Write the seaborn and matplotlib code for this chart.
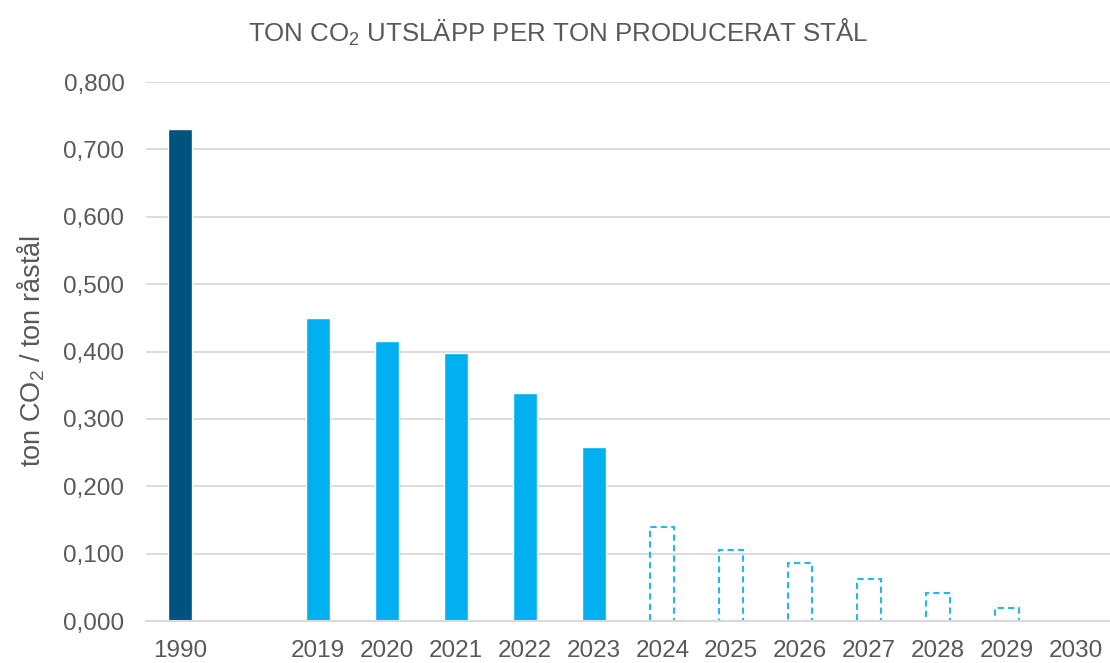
import numpy as np
import pandas as pd
import matplotlib
matplotlib.use('Agg')
import matplotlib.pyplot as plt
from matplotlib.ticker import FuncFormatter, MultipleLocator
import seaborn as sns

# Data
years = ['1990', ' ', '2019', '2020', '2021', '2022', '2023',
         '2024', '2025', '2026', '2027', '2028', '2029', '2030']
base_years = ['1990']
base_values = [0.730]
actual_years = ['2019', '2020', '2021', '2022', '2023']
actual_values = [0.450, 0.415, 0.398, 0.338, 0.258]
target_years = ['2024', '2025', '2026', '2027', '2028', '2029', '2030']
target_values = [0.140, 0.106, 0.086, 0.063, 0.041, 0.020, 0.0]

TEXT = '#595959'
GRID = '#D9D9D9'
DARK_BLUE = '#00527F'
LIGHT_BLUE = '#00B0F0'
DASH_BLUE = '#22B8F0'

sns.set_theme(style='white')
plt.rcParams['font.family'] = ['Liberation Sans', 'DejaVu Sans']
plt.rcParams['mathtext.default'] = 'regular'

solid = pd.DataFrame({
    'year': base_years + actual_years,
    'value': base_values + actual_values,
    'kind': ['base'] * len(base_years) + ['actual'] * len(actual_years),
})
target = pd.DataFrame({'year': target_years, 'value': target_values})
target = target[target['value'] > 0]

fig = plt.figure(figsize=(11.1, 6.63), dpi=100)
ax = fig.add_axes([0.1315, 0.0633, 0.8685, 0.813])

sns.barplot(data=solid, x='year', y='value', order=years, hue='kind',
            palette={'base': DARK_BLUE, 'actual': LIGHT_BLUE}, saturation=1,
            width=0.35, dodge=False, legend=False, ax=ax, zorder=3)
sns.barplot(data=target, x='year', y='value', order=years, fill=False,
            color=DASH_BLUE, saturation=1, width=0.35, linewidth=1.5,
            linestyle=(0, (3, 2)), ax=ax, zorder=3)

ax.set_xlim(-0.5, len(years) - 0.5)
ax.set_ylim(0, 0.8)
ax.yaxis.set_major_locator(MultipleLocator(0.1))
ax.yaxis.set_major_formatter(FuncFormatter(lambda v, p: f'{v:.3f}'.replace('.', ',')))
ax.grid(axis='y', color=GRID, linewidth=1.3, zorder=0)
ax.set_axisbelow(True)

for s in ['top', 'right', 'left']:
    ax.spines[s].set_visible(False)
ax.spines['bottom'].set_color(GRID)
ax.spines['bottom'].set_linewidth(1.5)
ax.spines['bottom'].set_zorder(4)

ax.tick_params(axis='both', length=0, labelsize=17.5, colors=TEXT)
ax.tick_params(axis='x', pad=14)
ax.tick_params(axis='y', pad=15.5)

ax.set_xlabel('')
ax.set_ylabel('ton CO$_2$ / ton råstål', fontsize=19.5, color=TEXT, labelpad=12)

fig.suptitle('TON CO$_2$ UTSLÄPP PER TON PRODUCERAT STÅL', fontsize=18.6,
             color=TEXT, x=0.503, y=0.975)

fig.savefig('out.png', dpi=100)
